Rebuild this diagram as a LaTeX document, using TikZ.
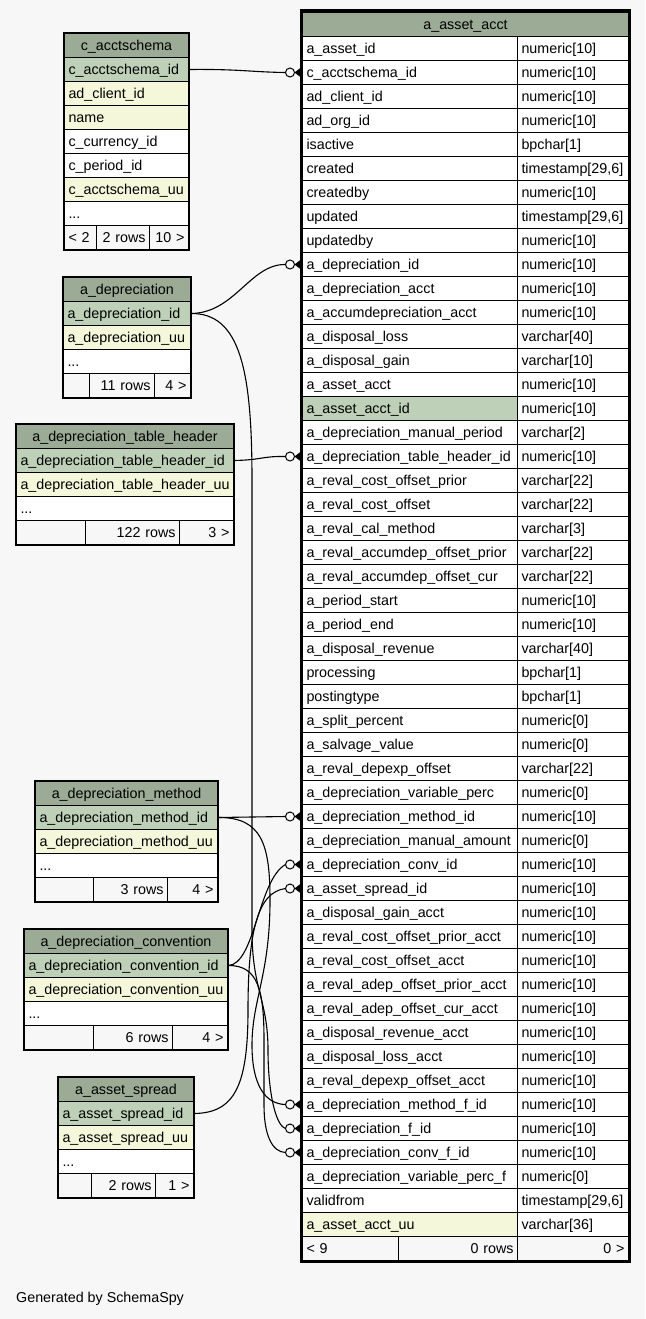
\documentclass[tikz,border=0pt]{standalone}
\usepackage{fontspec}
\setmainfont{Liberation Sans}
\definecolor{bg}{HTML}{F7F7F7}
\definecolor{hd}{HTML}{9BAB96}
\definecolor{cp}{HTML}{BED1B8}
\definecolor{cu}{HTML}{F4F7DA}
\definecolor{cw}{HTML}{FFFFFF}
\definecolor{cf}{HTML}{F7F7F7}
\tikzset{
  cellbase/.style={draw=black, line width=1pt, inner xsep=4pt, inner ysep=0pt,
    minimum height=24pt, text height=11.5pt, text depth=2pt, anchor=north west,
    font=\fontsize{14.3}{17}\selectfont},
  fkline/.style={draw=black, line width=1.1pt},
  frame/.style={draw=black, line width=1.4pt},
}
\newcommand\cellnode[6]{\node[cellbase,fill=#4,text width=#3,align=#6] (#1) at #2 {#5};}
\newcommand\fkend[1]{%
  \draw[line width=1pt, fill=bg] ([xshift=-12pt]#1.west) circle (4.5pt);
  \fill[black] ([xshift=-7.5pt]#1.west) -- ([xshift=-1pt,yshift=5pt]#1.west) -- ([xshift=-1pt,yshift=-5pt]#1.west) -- cycle;
}
\begin{document}
\catcode`\_=12
\begin{tikzpicture}[x=1pt,y=-1pt]
\fill[bg] (0,0) rectangle (645,1319);
\useasboundingbox (0,0) rectangle (645,1319);

% ---------- main table ----------
\cellnode{mh}{(302,12)}{318pt}{hd}{a_asset_acct}{center}
\foreach [count=\i] \nm/\ty/\st in {
a_asset_id/numeric[10]/w,
c_acctschema_id/numeric[10]/w,
ad_client_id/numeric[10]/w,
ad_org_id/numeric[10]/w,
isactive/bpchar[1]/w,
created/{timestamp[29,6]}/w,
createdby/numeric[10]/w,
updated/{timestamp[29,6]}/w,
updatedby/numeric[10]/w,
a_depreciation_id/numeric[10]/w,
a_depreciation_acct/numeric[10]/w,
a_accumdepreciation_acct/numeric[10]/w,
a_disposal_loss/varchar[40]/w,
a_disposal_gain/varchar[10]/w,
a_asset_acct/numeric[10]/w,
a_asset_acct_id/numeric[10]/p,
a_depreciation_manual_period/varchar[2]/w,
a_depreciation_table_header_id/numeric[10]/w,
a_reval_cost_offset_prior/varchar[22]/w,
a_reval_cost_offset/varchar[22]/w,
a_reval_cal_method/varchar[3]/w,
a_reval_accumdep_offset_prior/varchar[22]/w,
a_reval_accumdep_offset_cur/varchar[22]/w,
a_period_start/numeric[10]/w,
a_period_end/numeric[10]/w,
a_disposal_revenue/varchar[40]/w,
processing/bpchar[1]/w,
postingtype/bpchar[1]/w,
a_split_percent/numeric[0]/w,
a_salvage_value/numeric[0]/w,
a_reval_depexp_offset/varchar[22]/w,
a_depreciation_variable_perc/numeric[0]/w,
a_depreciation_method_id/numeric[10]/w,
a_depreciation_manual_amount/numeric[0]/w,
a_depreciation_conv_id/numeric[10]/w,
a_asset_spread_id/numeric[10]/w,
a_disposal_gain_acct/numeric[10]/w,
a_reval_cost_offset_prior_acct/numeric[10]/w,
a_reval_cost_offset_acct/numeric[10]/w,
a_reval_adep_offset_prior_acct/numeric[10]/w,
a_reval_adep_offset_cur_acct/numeric[10]/w,
a_disposal_revenue_acct/numeric[10]/w,
a_disposal_loss_acct/numeric[10]/w,
a_reval_depexp_offset_acct/numeric[10]/w,
a_depreciation_method_f_id/numeric[10]/w,
a_depreciation_f_id/numeric[10]/w,
a_depreciation_conv_f_id/numeric[10]/w,
a_depreciation_variable_perc_f/numeric[0]/w,
validfrom/{timestamp[29,6]}/w,
a_asset_acct_uu/varchar[36]/u}
{
  \pgfmathsetmacro\yy{36+24*(\i-1)}
  \node[cellbase, fill=c\st, text width=207pt, align=left] (mn\i) at (302,\yy) {\nm};
  \node[cellbase, fill=cw, text width=103pt, align=left] (mt\i) at (517,\yy) {\ty};
}
\cellnode{mf1}{(302,1236)}{88pt}{cf}{< 9}{left}
\cellnode{mf2}{(398,1236)}{111pt}{cf}{0 rows}{right}
\cellnode{mf3}{(517,1236)}{103pt}{cf}{0 >}{right}
\draw[line width=3pt] (301,11) rectangle (629,1261);

% ---------- c_acctschema ----------
\cellnode{csh}{(64,33)}{116pt}{hd}{c_acctschema}{center}
\cellnode{cs1}{(64,57)}{116pt}{cp}{c_acctschema_id}{left}
\cellnode{cs2}{(64,81)}{116pt}{cu}{ad_client_id}{left}
\cellnode{cs3}{(64,105)}{116pt}{cu}{name}{left}
\cellnode{cs4}{(64,129)}{116pt}{cw}{c_currency_id}{left}
\cellnode{cs5}{(64,153)}{116pt}{cw}{c_period_id}{left}
\cellnode{cs6}{(64,177)}{116pt}{cu}{c_acctschema_uu}{left}
\cellnode{cs7}{(64,201)}{116pt}{cw}{...}{left}
\cellnode{csf1}{(64,225)}{24pt}{cf}{< 2}{left}
\cellnode{csf2}{(96,225)}{45pt}{cf}{2 rows}{right}
\cellnode{csf3}{(149,225)}{31pt}{cf}{10 >}{right}
\draw[frame] (csh.north west) rectangle (csf3.south east);

% ---------- a_depreciation ----------
\cellnode{dph}{(63,277)}{119pt}{hd}{a_depreciation}{center}
\cellnode{dp1}{(63,301)}{119pt}{cp}{a_depreciation_id}{left}
\cellnode{dp2}{(63,325)}{119pt}{cu}{a_depreciation_uu}{left}
\cellnode{dp3}{(63,349)}{119pt}{cw}{...}{left}
\cellnode{dpf1}{(63,373)}{18pt}{cf}{}{left}
\cellnode{dpf2}{(89,373)}{57pt}{cf}{11 rows}{right}
\cellnode{dpf3}{(154,373)}{28pt}{cf}{4 >}{right}
\draw[frame] (dph.north west) rectangle (dpf3.south east);

% ---------- a_depreciation_table_header ----------
\cellnode{thh}{(16,424)}{209pt}{hd}{a_depreciation_table_header}{center}
\cellnode{th1}{(16,448)}{209pt}{cp}{a_depreciation_table_header_id}{left}
\cellnode{th2}{(16,472)}{209pt}{cu}{a_depreciation_table_header_uu}{left}
\cellnode{th3}{(16,496)}{209pt}{cw}{...}{left}
\cellnode{thf1}{(16,520)}{61pt}{cf}{}{left}
\cellnode{thf2}{(85,520)}{86pt}{cf}{122 rows}{right}
\cellnode{thf3}{(179,520)}{46pt}{cf}{3 >}{right}
\draw[frame] (thh.north west) rectangle (thf3.south east);

% ---------- a_depreciation_method ----------
\cellnode{dmh}{(35,781)}{174pt}{hd}{a_depreciation_method}{center}
\cellnode{dm1}{(35,805)}{174pt}{cp}{a_depreciation_method_id}{left}
\cellnode{dm2}{(35,829)}{174pt}{cu}{a_depreciation_method_uu}{left}
\cellnode{dm3}{(35,853)}{174pt}{cw}{...}{left}
\cellnode{dmf1}{(35,877)}{50pt}{cf}{}{left}
\cellnode{dmf2}{(93,877)}{66pt}{cf}{3 rows}{right}
\cellnode{dmf3}{(167,877)}{42pt}{cf}{4 >}{right}
\draw[frame] (dmh.north west) rectangle (dmf3.south east);

% ---------- a_depreciation_convention ----------
\cellnode{dch}{(24,929)}{195pt}{hd}{a_depreciation_convention}{center}
\cellnode{dc1}{(24,953)}{195pt}{cp}{a_depreciation_convention_id}{left}
\cellnode{dc2}{(24,977)}{195pt}{cu}{a_depreciation_convention_uu}{left}
\cellnode{dc3}{(24,1001)}{195pt}{cw}{...}{left}
\cellnode{dcf1}{(24,1025)}{61pt}{cf}{}{left}
\cellnode{dcf2}{(93,1025)}{71pt}{cf}{6 rows}{right}
\cellnode{dcf3}{(172,1025)}{47pt}{cf}{4 >}{right}
\draw[frame] (dch.north west) rectangle (dcf3.south east);

% ---------- a_asset_spread ----------
\cellnode{ash}{(58,1077)}{127pt}{hd}{a_asset_spread}{center}
\cellnode{as1}{(58,1101)}{127pt}{cp}{a_asset_spread_id}{left}
\cellnode{as2}{(58,1125)}{127pt}{cu}{a_asset_spread_uu}{left}
\cellnode{as3}{(58,1149)}{127pt}{cw}{...}{left}
\cellnode{asf1}{(58,1173)}{25pt}{cf}{}{left}
\cellnode{asf2}{(91,1173)}{56pt}{cf}{2 rows}{right}
\cellnode{asf3}{(155,1173)}{30pt}{cf}{1 >}{right}
\draw[frame] (ash.north west) rectangle (asf3.south east);

% ---------- connectors ----------
\draw[fkline] (cs1.east) .. controls (240,69) and (250,72) .. ([xshift=-16.5pt]mn2.west);
\draw[fkline] (dp1.east) .. controls (235,313) and (250,264) .. ([xshift=-16.5pt]mn10.west);
\draw[fkline] (dp1.east) .. controls (240,313) and (252,370) .. (252,480) -- (252,930)
   .. controls (252,990) and (268,1000) .. (268,1050)
   .. controls (268,1090) and (275,1125) .. ([xshift=-16.5pt]mn46.west);
\draw[fkline] (th1.east) .. controls (262,460) and (262,456) .. ([xshift=-16.5pt]mn18.west);
\draw[fkline] (dm1.east) -- ([xshift=-16.5pt]mn33.west);
\draw[fkline] (dm1.east) .. controls (262,817) and (270,845) .. (270,900)
   .. controls (270,975) and (252,1000) .. (252,1045)
   .. controls (252,1085) and (265,1104) .. ([xshift=-16.5pt]mn45.west);
\draw[fkline] (dc1.east) .. controls (255,965) and (258,880) .. ([xshift=-16.5pt]mn35.west);
\draw[fkline] (dc1.east) .. controls (258,965) and (264,990) .. (264,1040) -- (264,1105)
   .. controls (264,1135) and (272,1152) .. ([xshift=-16.5pt]mn47.west);
\draw[fkline] (as1.east) .. controls (235,1113) and (248,1085) .. (248,1010)
   .. controls (248,930) and (258,892) .. ([xshift=-16.5pt]mn36.west);

% ---------- FK ends ----------
\fkend{mn2}
\fkend{mn10}
\fkend{mn18}
\fkend{mn33}
\fkend{mn35}
\fkend{mn36}
\fkend{mn45}
\fkend{mn46}
\fkend{mn47}

\node[anchor=west, inner sep=0pt, font=\fontsize{14.3}{17}\selectfont] (gen) at (16,1299) {Generated by SchemaSpy};
\end{tikzpicture}
\end{document}
